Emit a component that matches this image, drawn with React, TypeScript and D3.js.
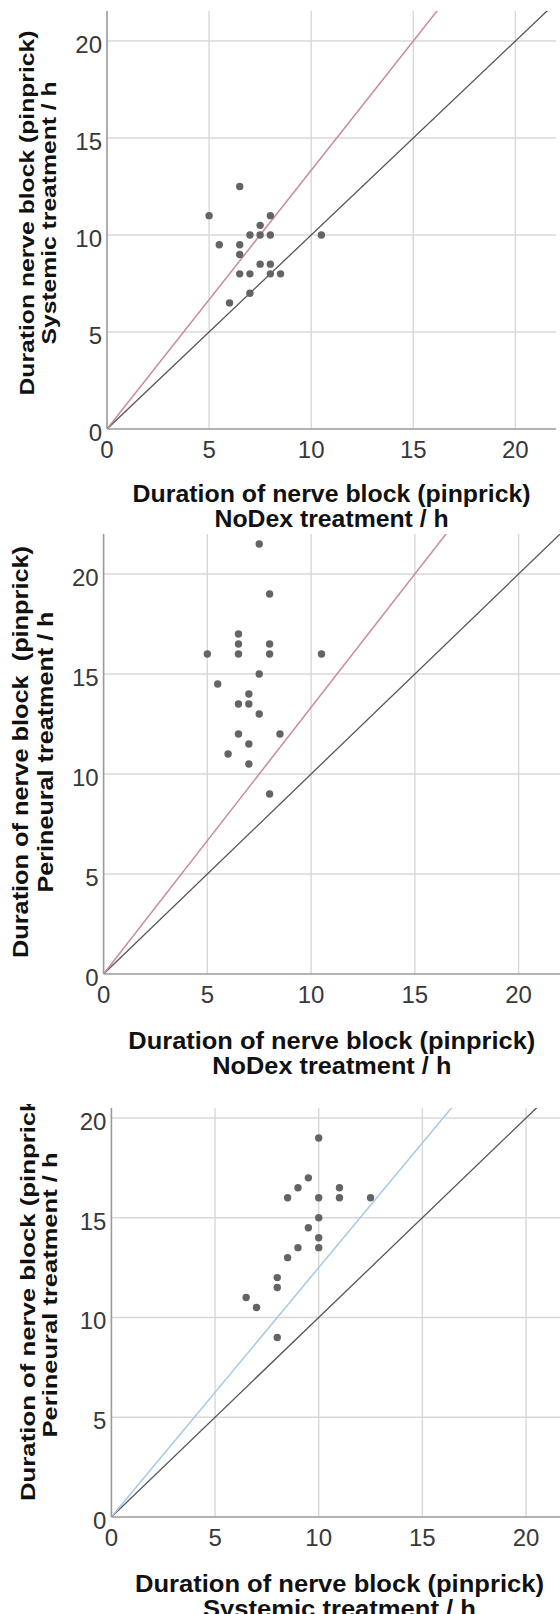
import React, { useEffect, useRef } from "react";
import * as d3 from "d3";

// Panel A: NoDex (x) vs Systemic (y)
const nodexA = [5, 6.5, 5.5, 6.5, 6.5, 6.5, 6, 7, 7, 7, 7.5, 7.5, 7.5, 8, 8, 8, 8, 8.5, 10.5];
const systemicA = [11, 12.5, 9.5, 9.5, 9, 8, 6.5, 10, 8, 7, 10.5, 10, 8.5, 11, 10, 8.5, 8, 8, 10];

// Panel B: NoDex (x) vs Perineural (y)
const nodexB = [7.5, 8, 5, 6.5, 6.5, 6.5, 8, 8, 10.5, 7.5, 5.5, 7, 6.5, 7, 7.5, 6.5, 8.5, 7, 6, 7, 8];
const perineuralB = [21.5, 19, 16, 17, 16.5, 16, 16.5, 16, 16, 15, 14.5, 14, 13.5, 13.5, 13, 12, 12, 11.5, 11, 10.5, 9];

// Panel C: Systemic (x) vs Perineural (y)
const systemicC = [10, 9.5, 9, 8.5, 10, 11, 11, 12.5, 10, 9.5, 10, 9, 10, 8.5, 8, 8, 6.5, 7, 8];
const perineuralC = [19, 17, 16.5, 16, 16, 16.5, 16, 16, 15, 14.5, 14, 13.5, 13.5, 13, 12, 11.5, 11, 10.5, 9];

const tickValues = [0, 5, 10, 15, 20];
// slope of the coloured reference line in each panel (the grey one is y = x)
const refSlopes = [4 / 3, 4 / 3, 1.25];
const refColors = ["#c98a9a", "#c98a9a", "#a9c8e2"];

const xTitles = [
    ["Duration of nerve block (pinprick)", "NoDex treatment / h"],
    ["Duration of nerve block (pinprick)", "NoDex treatment / h"],
    ["Duration of nerve block (pinprick)", "Systemic treatment / h"],
];
const yTitles = [
    ["Duration nerve block (pinprick)", "Systemic treatment / h"],
    ["Duration of nerve block\u00a0 (pinprick)", "Perineural treatment / h"],
    ["Duration of nerve block (pinprick)", "Perineural treatment / h"],
];

const W = 560, H = 1614;
const FONT = "'Liberation Sans', Arial, Helvetica, sans-serif";

// pixel layout of each panel (title widths are textLength values)
const layout = [
    { xr: [107, 556.2], yMax: 21.55, yr: [429, 11], xt: [502, 527], xw: [398, 234],
      yt: [33.5, 55.5], yw: [365, 263], yc: 213, yfs: 20.5, clipTop: 0 },
    { xr: [103.6, 560.1], yMax: 22, yr: [974, 534], xt: [1049, 1074], xw: [407, 239],
      yt: [28, 52.5], yw: [412, 281], yc: 752, yfs: 22, clipTop: 540 },
    { xr: [111.4, 567.5], yMax: 20.5, yr: [1517, 1108], xt: [1592, 1617], xw: [409, 273],
      yt: [34.5, 56.5], yw: [412, 285], yc: 1295, yfs: 20.5, clipTop: 1104 },
];

const series = [
    [nodexA, systemicA],
    [nodexB, perineuralB],
    [systemicC, perineuralC],
];

function drawPanel(svg, i) {
    const L = layout[i];
    const [xs, ys] = series[i];
    const x = d3.scaleLinear().domain([0, 22]).range(L.xr);
    const y = d3.scaleLinear().domain([0, L.yMax]).range(L.yr);
    const right = Math.min(x(22), W);
    const top = y(L.yMax);
    const g = svg.append("g");

    const clipId = "plotclip" + i;
    svg.append("clipPath").attr("id", clipId)
        .append("rect")
        .attr("x", x(0)).attr("y", top)
        .attr("width", right - x(0)).attr("height", y(0) - top);

    //Grid lines
    g.selectAll(".hgrid").data(tickValues.filter(d => d > 0)).join("line")
        .attr("x1", x(0)).attr("x2", right)
        .attr("y1", d => y(d)).attr("y2", d => y(d))
        .attr("stroke", "#d8d8d8").attr("stroke-width", 1.4);
    g.selectAll(".vgrid").data(tickValues.filter(d => d > 0)).join("line")
        .attr("x1", d => x(d)).attr("x2", d => x(d))
        .attr("y1", top).attr("y2", y(0))
        .attr("stroke", "#d8d8d8").attr("stroke-width", 1.4);

    //Reference lines
    const lines = g.append("g").attr("clip-path", `url(#${clipId})`);
    lines.append("line")
        .attr("x1", x(0)).attr("y1", y(0))
        .attr("x2", x(30)).attr("y2", y(30))
        .attr("stroke", "#555").attr("stroke-width", 1.3);
    lines.append("line")
        .attr("x1", x(0)).attr("y1", y(0))
        .attr("x2", x(30)).attr("y2", y(30 * refSlopes[i]))
        .attr("stroke", refColors[i]).attr("stroke-width", 1.5);

    //Axis lines
    g.append("line")
        .attr("x1", x(0)).attr("x2", right)
        .attr("y1", y(0)).attr("y2", y(0))
        .attr("stroke", "#9a9a9a").attr("stroke-width", 1.6);
    g.append("line")
        .attr("x1", x(0)).attr("x2", x(0))
        .attr("y1", top).attr("y2", y(0))
        .attr("stroke", "#9a9a9a").attr("stroke-width", 1.6);

    //Dots
    g.selectAll("circle").data(xs.map((d, k) => [d, ys[k]])).join("circle")
        .attr("cx", d => x(d[0])).attr("cy", d => y(d[1]))
        .attr("r", 3.7).attr("fill", "#646464");

    //Tick labels
    g.selectAll(".xtick").data(tickValues).join("text")
        .attr("x", d => x(d)).attr("y", y(0) + 29)
        .attr("text-anchor", "middle")
        .attr("font-family", FONT).attr("font-size", 24).attr("fill", "#383838")
        .text(d => d);
    g.selectAll(".ytick").data(tickValues).join("text")
        .attr("x", x(0) - 5).attr("y", d => y(d) + 12)
        .attr("text-anchor", "end")
        .attr("font-family", FONT).attr("font-size", 24).attr("fill", "#383838")
        .text(d => d);

    //Axis titles
    const cx = (x(0) + x(22)) / 2;
    xTitles[i].forEach((t, k) => {
        g.append("text")
            .attr("x", cx).attr("y", L.xt[k])
            .attr("text-anchor", "middle")
            .attr("textLength", L.xw[k]).attr("lengthAdjust", "spacingAndGlyphs")
            .attr("font-family", FONT).attr("font-size", 23).attr("font-weight", "bold")
            .attr("fill", "#111")
            .text(t);
    });
    const titleClip = "titleclip" + i;
    svg.append("clipPath").attr("id", titleClip)
        .append("rect").attr("x", 0).attr("y", L.clipTop).attr("width", 100).attr("height", H);
    const yg = g.append("g").attr("clip-path", `url(#${titleClip})`);
    yTitles[i].forEach((t, k) => {
        yg.append("text")
            .attr("transform", `translate(${L.yt[k]},${L.yc}) rotate(-90)`)
            .attr("text-anchor", "middle")
            .attr("textLength", L.yw[k]).attr("lengthAdjust", "spacingAndGlyphs")
            .attr("font-family", FONT).attr("font-size", L.yfs).attr("font-weight", "bold")
            .attr("fill", "#111")
            .text(t);
    });
}

export default function App() {
    const svgNode = useRef(null);

    useEffect(() => {
        const svg = d3.select(svgNode.current);
        svg.selectAll("*").remove();
        svg.append("rect").attr("width", W).attr("height", H).attr("fill", "#fff");
        [0, 1, 2].forEach(i => drawPanel(svg, i));
    }, []);

    return (
        <svg ref={svgNode} width={W} height={H}
            style={{ position: "absolute", left: 0, top: 0, display: "block" }}></svg>
    );
}
